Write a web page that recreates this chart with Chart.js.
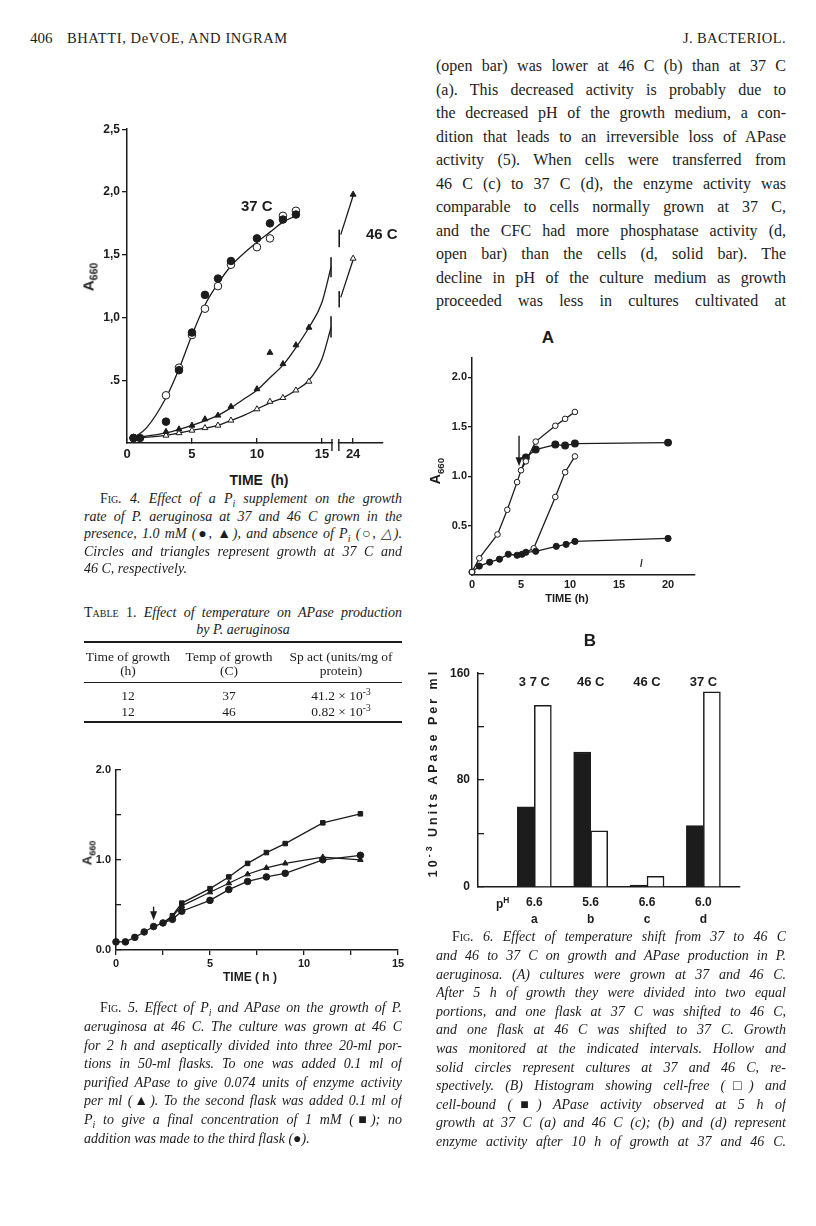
<!DOCTYPE html>
<html>
<head>
<meta charset="utf-8">
<script src="https://cdn.jsdelivr.net/npm/chart.js@4.4.1/dist/chart.umd.min.js"></script>
<style>
  body { margin: 0; width: 816px; height: 1226px; position: relative; overflow: hidden; background: #fff; color: #1c1c1c; font-family: "Liberation Serif", serif; }
  .ln { position: absolute; white-space: nowrap; }
  .j { white-space: normal; text-align: justify; text-align-last: justify; overflow: hidden; }
  .sans { font-family: "Liberation Sans", sans-serif; font-weight: bold; }
  .cap { font-style: italic; }
  .sc { font-style: normal; font-variant: small-caps; }
  sub, sup { font-size: 0.7em; line-height: 0; }
  .rot { position: absolute; white-space: nowrap; transform: translate(-50%, -50%) rotate(-90deg); }
  .rule { position: absolute; background: #1c1c1c; }
  canvas { position: absolute; }
</style>
</head>
<body>
<canvas id="fig4"></canvas>
<canvas id="fig5"></canvas>
<canvas id="fig6a"></canvas>
<canvas id="fig6b"></canvas>
<script>
const INK = '#1c1c1c';

// ---- Fig. 4 data (A660 vs time, h); 24 h is drawn at a compressed position after the axis break
const H24 = 17.4;
const fig4Hours37 = [0.5, 1, 3, 4, 5, 6, 7, 8, 10, 11, 12, 13];
const fig4Filled37 = [0.04, 0.04, 0.17, 0.58, 0.88, 1.18, 1.31, 1.45, 1.63, 1.75, 1.78, 1.82];
const fig4OpenHours37 = [0.5, 3, 4, 5, 6, 7, 8, 10, 11, 12, 13];
const fig4Open37 = [0.04, 0.38, 0.60, 0.86, 1.07, 1.25, 1.42, 1.56, 1.63, 1.81, 1.85];
const fig4Hours46 = [0.5, 3, 4, 5, 6, 7, 8, 10, 11, 12, 13, 14, H24];
const fig4Filled46 = [0.04, 0.09, 0.11, 0.14, 0.19, 0.22, 0.29, 0.43, 0.72, 0.63, 0.78, 0.92, 1.98];
const fig4OpenHours46 = [3, 4, 5, 6, 7, 8, 10, 11, 12, 13, 14, H24];
const fig4Open46 = [0.06, 0.08, 0.10, 0.12, 0.14, 0.18, 0.27, 0.33, 0.36, 0.42, 0.49, 1.47];
// hand-drawn curves
const fit37Hours = [0.5, 1.5, 3, 4, 5, 6, 7, 8, 10, 11, 12, 13];
const fit37 = [0.04, 0.12, 0.36, 0.59, 0.86, 1.1, 1.27, 1.41, 1.6, 1.68, 1.76, 1.81];
const fit46FHours = [0.5, 3, 5, 7, 8, 9, 10, 11, 12, 13, 14, 15, 15.7];
const fit46F = [0.04, 0.08, 0.14, 0.22, 0.28, 0.35, 0.42, 0.52, 0.62, 0.76, 0.92, 1.12, 1.40];
const fit46OHours = [0.5, 3, 5, 7, 8, 9, 10, 11, 12, 13, 14, 15, 15.7];
const fit46O = [0.04, 0.06, 0.10, 0.14, 0.18, 0.22, 0.27, 0.32, 0.36, 0.42, 0.50, 0.67, 0.92];
const fig4Tail = [[H24, 16.45, 1.97, 1.66], [H24, 16.45, 1.46, 1.16]];
const fig4Cuts = [[15.7, 1.32, 1.48], [16.33, 1.56, 1.70], [15.7, 0.84, 1.01], [16.33, 1.08, 1.21]];
const fig4Break = [15.77, 16.3];
const fig4XTicks = [0, 5, 10, 15, H24];
const fig4XLabels = ['0', '5', '10', '15', '24'];
const fig4YTicks = [0.5, 1, 1.5, 2, 2.5];
const fig4YLabels = ['.5', '1,0', '1,5', '2,0', '2,5'];

// ---- Fig. 5 data
const fig5CommonHours = [0, 0.5, 1, 1.5, 2, 2.5];
const fig5Common = [0.09, 0.09, 0.14, 0.20, 0.26, 0.30];
const fig5Hours = [2.5, 3, 3.5, 5, 6, 7, 8, 9, 11, 13];
const fig5Pi = [0.30, 0.38, 0.52, 0.68, 0.81, 0.96, 1.08, 1.18, 1.41, 1.51];
const fig5APase = [0.30, 0.37, 0.49, 0.64, 0.74, 0.84, 0.91, 0.96, 1.03, 1.00];
const fig5None = [0.30, 0.34, 0.43, 0.55, 0.67, 0.76, 0.81, 0.85, 1.00, 1.05];
const fig5Arrow = [2, 0.48, 0.33];
const fig5XTicks = [0, 2.5, 5, 7.5, 10, 12.5, 15];
const fig5XLabels = ['0', '', '5', '', '10', '', '15'];
const fig5YTicks = [0, 0.5, 1, 1.5, 2];
const fig5YLabels = ['0.0', '', '1.0', '', '2.0'];

// ---- Fig. 6A data
const open37Hours = [0, 0.75, 2.6, 3.6, 4.6, 5, 5.5, 6.5, 8.5, 9.5, 10.5];
const open37 = [0.03, 0.17, 0.41, 0.66, 0.94, 1.06, 1.15, 1.35, 1.51, 1.58, 1.65];
const shift46Hours = [5, 5.5, 6.5, 8.5, 9.5, 10.5, 20];
const shift46 = [1.06, 1.19, 1.27, 1.32, 1.31, 1.33, 1.34];
const solid46Hours = [0, 0.75, 1.8, 2.8, 3.7, 4.6, 5.1, 5.5, 6.5, 8.6, 9.6, 10.5, 20];
const solid46 = [0.03, 0.09, 0.13, 0.16, 0.21, 0.20, 0.21, 0.23, 0.24, 0.29, 0.31, 0.34, 0.37];
const shift37Hours = [5.5, 6.3, 8.5, 9.5, 10.5];
const shift37 = [0.23, 0.27, 0.79, 1.04, 1.20];
const fig6aArrow = [4.8, 1.41, 1.10];
const fig6aXTicks = [0, 5, 10, 15, 20];
const fig6aYTicks = [0.5, 1, 1.5, 2];
const fig6aYLabels = ['0.5', '1.0', '1.5', '2.0'];

// ---- Fig. 6B data (10^-3 units APase per ml)
const fig6bPos = [1, 2, 3, 4];
const fig6bCellBound = [60, 101, 1.5, 46];
const fig6bCellFree = [136, 42, 8, 146];
const fig6bTemps = ['3 7 C', '46 C', '46 C', '37 C'];
const fig6bPH = ['6.6', '5.6', '6.6', '6.0'];
const fig6bLetters = ['a', 'b', 'c', 'd'];
const fig6bYTicks = [0, 40, 80, 120, 160];
const fig6bYLabels = ['0', '', '80', '', '160'];

function pts(xs, ys) { return xs.map((x, i) => ({ x: x, y: ys[i] })); }

function series(xs, ys, style) {
  return Object.assign({
    data: pts(xs, ys), clip: false, borderColor: INK, backgroundColor: INK,
    borderWidth: 1.3, pointRadius: 0, tension: 0, showLine: true
  }, style);
}

function markers(xs, ys, shape, filled, r) {
  return series(xs, ys, {
    showLine: false, pointStyle: shape, pointRadius: r, pointBorderWidth: 1,
    pointBackgroundColor: filled ? INK : '#fff', pointBorderColor: INK, order: 0
  });
}

function setup(id, plot, pad) {
  const c = document.getElementById(id);
  c.width = plot.r - plot.l + pad.l + pad.r;
  c.height = plot.b - plot.t + pad.t + pad.b;
  c.style.left = (plot.l - pad.l) + 'px';
  c.style.top = (plot.t - pad.t) + 'px';
  return c;
}

function tickFont(size) { return { family: 'Liberation Sans', weight: 'bold', size: size }; }

function axis(o) {
  return {
    type: 'linear', min: o.min, max: o.max, offset: false,
    afterBuildTicks: s => { s.ticks = o.ticks.map(v => ({ value: v })); },
    afterFit: s => { if (o.w) s.width = o.w; if (o.h) s.height = o.h; },
    border: { display: true, color: INK, width: 1.5 },
    grid: { display: true, drawOnChartArea: false, drawTicks: o.tl !== 0, tickLength: o.tl || 0, color: INK, lineWidth: 1.3 },
    ticks: {
      autoSkip: false, maxRotation: 0, minRotation: 0, color: INK, padding: o.pad, font: tickFont(o.size || 12),
      callback: (v) => { const i = o.ticks.indexOf(v); return o.labels ? o.labels[i] : String(v); }
    }
  };
}

function baseOptions(pad, x, y) {
  return {
    responsive: false, animation: false, events: [],
    layout: { autoPadding: false, padding: { top: pad.t, right: pad.r, left: 0, bottom: 0 } },
    plugins: { legend: { display: false }, tooltip: { enabled: false } },
    scales: { x: x, y: y }
  };
}

function arrow(ctx, x, y1, y2) {
  ctx.save();
  ctx.strokeStyle = INK; ctx.fillStyle = INK; ctx.lineWidth = 1.4;
  ctx.beginPath(); ctx.moveTo(x, y1); ctx.lineTo(x, y2 - 6); ctx.stroke();
  ctx.beginPath(); ctx.moveTo(x - 3.5, y2 - 9); ctx.lineTo(x + 3.5, y2 - 9); ctx.lineTo(x, y2); ctx.closePath(); ctx.fill();
  ctx.restore();
}

// ---------------- Fig. 4
(function () {
  const plot = { l: 127, r: 383, t: 128, b: 443 }, pad = { l: 40, r: 10, t: 8, b: 24 };
  const c = setup('fig4', plot, pad);
  const ds = [
    markers(fig4Hours37, fig4Filled37, 'circle', true, 3.8),
    markers(fig4OpenHours37, fig4Open37, 'circle', false, 3.8),
    markers(fig4Hours46, fig4Filled46, 'triangle', true, 3.4),
    markers(fig4OpenHours46, fig4Open46, 'triangle', false, 3.4),
    series(fit37Hours, fit37, { cubicInterpolationMode: 'monotone', order: 1 }),
    series(fit46FHours, fit46F, { cubicInterpolationMode: 'monotone', order: 1 }),
    series(fit46OHours, fit46O, { cubicInterpolationMode: 'monotone', order: 1 })
  ];
  fig4Tail.forEach(t => ds.push(series([t[0], t[1]], [t[2], t[3]], { order: 1 })));
  fig4Cuts.forEach(t => ds.push(series([t[0], t[0]], [t[1], t[2]], { borderWidth: 1.6, order: 1 })));
  new Chart(c, {
    type: 'line',
    data: { datasets: ds },
    options: baseOptions(pad,
      axis({ min: 0, max: 19.7, ticks: fig4XTicks, labels: fig4XLabels, h: pad.b, tl: -5, pad: 9, size: 13 }),
      axis({ min: 0, max: 2.5, ticks: fig4YTicks, labels: fig4YLabels, w: pad.l, tl: 5, pad: 2, size: 12 })),
    plugins: [{
      id: 'break4',
      afterDraw(chart) {
        const ctx = chart.ctx, x = chart.scales.x, y = chart.scales.y;
        const a = x.getPixelForValue(fig4Break[0]), b = x.getPixelForValue(fig4Break[1]);
        ctx.save();
        ctx.fillStyle = '#fff'; ctx.fillRect(a + 1, y.bottom - 2, b - a - 2, 4);
        ctx.strokeStyle = INK; ctx.lineWidth = 1.4;
        [a, b].forEach(p => { ctx.beginPath(); ctx.moveTo(p, y.bottom - 4); ctx.lineTo(p, y.bottom + 8); ctx.stroke(); });
        ctx.restore();
      }
    }]
  });
})();

// ---------------- Fig. 5
(function () {
  const plot = { l: 116, r: 398, t: 761, b: 950 }, pad = { l: 46, r: 10, t: 8, b: 24 };
  const c = setup('fig5', plot, pad);
  const line = { order: 1 };
  new Chart(c, {
    type: 'line',
    data: { datasets: [
      markers(fig5CommonHours, fig5Common, 'circle', true, 3.3),
      markers(fig5Hours.slice(1), fig5Pi.slice(1), 'rect', true, 3.2),
      markers(fig5Hours.slice(1), fig5APase.slice(1), 'triangle', true, 3.2),
      markers(fig5Hours.slice(1), fig5None.slice(1), 'circle', true, 3.3),
      series(fig5CommonHours, fig5Common, line),
      series(fig5Hours, fig5Pi, line),
      series(fig5Hours, fig5APase, line),
      series(fig5Hours, fig5None, line)
    ] },
    options: baseOptions(pad,
      axis({ min: 0, max: 15, ticks: fig5XTicks, labels: fig5XLabels, h: pad.b, tl: 5, pad: 2, size: 11 }),
      axis({ min: 0, max: 2, ticks: fig5YTicks, labels: fig5YLabels, w: pad.l, tl: -5, pad: 10, size: 11 })),
    plugins: [{
      id: 'arrow5',
      afterDraw(chart) {
        const x = chart.scales.x, y = chart.scales.y;
        arrow(chart.ctx, x.getPixelForValue(fig5Arrow[0]), y.getPixelForValue(fig5Arrow[1]), y.getPixelForValue(fig5Arrow[2]));
      }
    }]
  });
})();

// ---------------- Fig. 6A
(function () {
  const plot = { l: 472, r: 695, t: 354, b: 575 }, pad = { l: 40, r: 8, t: 4, b: 22 };
  const c = setup('fig6a', plot, pad);
  const line = { order: 1 };
  const firstHidden = (n, r) => Array.from({ length: n }, (_, i) => i === 0 ? 0 : r);
  new Chart(c, {
    type: 'line',
    data: { datasets: [
      markers(open37Hours, open37, 'circle', false, 2.8),
      series(shift46Hours, shift46, { showLine: false, pointRadius: firstHidden(shift46.length, 3.3), order: 0 }),
      markers(solid46Hours, solid46, 'circle', true, 3.1),
      series(shift37Hours, shift37, { showLine: false, pointStyle: 'circle', pointRadius: firstHidden(shift37.length, 2.8), pointBackgroundColor: '#fff', pointBorderWidth: 1, order: 0 }),
      series(open37Hours, open37, line),
      series(shift46Hours, shift46, line),
      series(solid46Hours, solid46, line),
      series(shift37Hours, shift37, line)
    ] },
    options: baseOptions(pad,
      axis({ min: 0, max: 22.75, ticks: fig6aXTicks, h: pad.b, tl: 0, pad: 3, size: 11 }),
      axis({ min: 0, max: 2.2, ticks: fig6aYTicks, labels: fig6aYLabels, w: pad.l, tl: 4, pad: 1, size: 11 })),
    plugins: [{
      id: 'arrow6a',
      afterDraw(chart) {
        const x = chart.scales.x, y = chart.scales.y;
        arrow(chart.ctx, x.getPixelForValue(fig6aArrow[0]), y.getPixelForValue(fig6aArrow[1]), y.getPixelForValue(fig6aArrow[2]));
      }
    }]
  });
})();

// ---------------- Fig. 6B
(function () {
  const plot = { l: 478, r: 740, t: 656, b: 887 }, pad = { l: 40, r: 8, t: 4, b: 44 };
  const c = setup('fig6b', plot, pad);
  const xAxis = axis({ min: 0, max: 4.65, ticks: fig6bPos, h: pad.b, tl: 0, pad: 8, size: 12 });
  xAxis.ticks.callback = v => [fig6bPH[v - 1], fig6bLetters[v - 1]];
  xAxis.ticks.font.lineHeight = 1.35;
  new Chart(c, {
    type: 'bar',
    data: { datasets: [
      { data: pts(fig6bPos, fig6bCellBound), backgroundColor: INK, borderColor: INK, borderWidth: 1.5, barThickness: 17 },
      { data: pts(fig6bPos, fig6bCellFree), backgroundColor: '#fff', borderColor: INK, borderWidth: 1.5, barThickness: 17 }
    ] },
    options: baseOptions(pad, xAxis,
      axis({ min: 0, max: 160, ticks: fig6bYTicks, labels: fig6bYLabels, w: pad.l, tl: -6, pad: 14, size: 12 })),
    plugins: [{
      id: 'temps6b',
      afterDraw(chart) {
        const ctx = chart.ctx, x = chart.scales.x;
        ctx.save();
        ctx.fillStyle = INK; ctx.font = 'bold 13px "Liberation Sans"'; ctx.textAlign = 'center'; ctx.textBaseline = 'middle';
        fig6bTemps.forEach((t, i) => ctx.fillText(t, x.getPixelForValue(fig6bPos[i]), chart.chartArea.top + 9));
        ctx.restore();
      }
    }]
  });
})();

// ---------------- text
function put(html, x, y, size, cls, w) {
  const d = document.createElement('div');
  d.className = 'ln ' + (cls || '');
  d.innerHTML = html;
  d.style.fontSize = size + 'px';
  d.style.lineHeight = Math.round(size * 1.25) + 'px';
  d.style.height = Math.round(size * 1.25) + 'px';
  d.style.top = (y - size * 0.62) + 'px';
  d.style.left = x + 'px';
  if (w) { d.style.width = w + 'px'; d.classList.add('j'); }
  document.body.appendChild(d);
  return d;
}
function center(html, x, y, size, cls) {
  const d = put(html, x - 150, y, size, cls);
  d.style.width = '300px'; d.style.textAlign = 'center';
  return d;
}
function rot(html, x, y, size, extra) {
  const d = document.createElement('div');
  d.className = 'rot sans';
  d.innerHTML = html;
  d.style.fontSize = size + 'px';
  d.style.left = x + 'px'; d.style.top = y + 'px';
  if (extra) d.style.letterSpacing = extra;
  document.body.appendChild(d);
}
function rule(x, y, w, h) {
  const d = document.createElement('div');
  d.className = 'rule';
  Object.assign(d.style, { left: x + 'px', top: y + 'px', width: w + 'px', height: h + 'px' });
  document.body.appendChild(d);
}

// running head
put('406', 30, 38, 15);
put('BHATTI, DeVOE, AND INGRAM', 67, 38, 14.5).style.letterSpacing = '0.6px';
const jb = put('J. BACTERIOL.', 0, 38, 14.5);
jb.style.left = ''; jb.style.right = '30px'; jb.style.letterSpacing = '0.4px';

const bodyLines = [
  '(open bar) was lower at 46 C (b) than at 37 C',
  '(a). This decreased activity is probably due to',
  'the decreased pH of the growth medium, a con-',
  'dition that leads to an irreversible loss of APase',
  'activity (5). When cells were transferred from',
  '46 C (c) to 37 C (d), the enzyme activity was',
  'comparable to cells normally grown at 37 C,',
  'and the CFC had more phosphatase activity (d,',
  'open bar) than the cells (d, solid bar). The',
  'decline in pH of the culture medium as growth',
  'proceeded was less in cultures cultivated at'
];
bodyLines.forEach((t, i) => put(t, 436, 66 + 23.5 * i, 16, '', 350));

// figure labels
put('37 C', 241, 205, 15, 'sans');
put('46 C', 366, 233, 15, 'sans');
rot('A<sub>660</sub>', 88, 277, 15);
center('TIME  (h)', 259, 480, 14, 'sans').style.whiteSpace = 'pre';

rot('A<sub>660</sub>', 87, 853, 13);
center('TIME ( h )', 250, 977, 12, 'sans').style.whiteSpace = 'pre';

center('A', 548, 338, 17, 'sans');
rot('A<sub>660</sub>', 435, 471, 14);
center('TIME (h)', 567, 598, 11, 'sans');
put('/', 640, 563, 10, 'sans');

center('B', 590, 641, 17, 'sans');
rot('10<sup>-3</sup> Units APase Per ml', 433, 773, 12.5, '3px');
put('p<sup>H</sup>', 496, 904, 12, 'sans');

// Fig. 4 caption
const cap4 = [
  '<span class="sc">Fig</span>. 4. Effect of a P<sub>i</sub> supplement on the growth',
  'rate of P. aeruginosa at 37 and 46 C grown in the',
  'presence, 1.0 mM (\u25CF, \u25B2), and absence of P<sub>i</sub> (\u25CB, \u25B3).',
  'Circles and triangles represent growth at 37 C and',
  '46 C, respectively.'
];
cap4.forEach((t, i) => put(t, i === 0 ? 100 : 84, 499 + 17.5 * i, 14, 'cap', i === cap4.length - 1 ? 0 : (i === 0 ? 302 : 318)));

// Table 1
put('<span class="sc">Table</span> 1. <i>Effect of temperature on APase production</i>', 84, 613, 14, '', 318);
center('<i>by P. aeruginosa</i>', 243, 630, 14);
rule(84, 641, 318, 1.6);
center('Time of growth', 128, 656, 13.5); center('(h)', 128, 670, 13.5);
center('Temp of growth', 229, 656, 13.5); center('(C)', 229, 670, 13.5);
center('Sp act (units/mg of', 341, 656, 13.5); center('protein)', 341, 670, 13.5);
rule(84, 682, 318, 1);
center('12', 128, 695, 13.5); center('37', 229, 695, 13.5); center('41.2 \u00D7 10<sup>-3</sup>', 341, 695, 13.5);
center('12', 128, 711, 13.5); center('46', 229, 711, 13.5); center('0.82 \u00D7 10<sup>-3</sup>', 341, 711, 13.5);
rule(84, 721, 318, 1.6);

// Fig. 5 caption
const cap5 = [
  '<span class="sc">Fig</span>. 5. Effect of P<sub>i</sub> and APase on the growth of P.',
  'aeruginosa at 46 C. The culture was grown at 46 C',
  'for 2 h and aseptically divided into three 20-ml por-',
  'tions in 50-ml flasks. To one was added 0.1 ml of',
  'purified APase to give 0.074 units of enzyme activity',
  'per ml (\u25B2). To the second flask was added 0.1 ml of',
  'P<sub>i</sub> to give a final concentration of 1 mM (\u25A0); no',
  'addition was made to the third flask (\u25CF).'
];
cap5.forEach((t, i) => put(t, i === 0 ? 100 : 84, 1008 + 18.6 * i, 14, 'cap', i === cap5.length - 1 ? 0 : (i === 0 ? 302 : 318)));

// Fig. 6 caption
const cap6 = [
  '<span class="sc">Fig</span>. 6. Effect of temperature shift from 37 to 46 C',
  'and 46 to 37 C on growth and APase production in P.',
  'aeruginosa. (A) cultures were grown at 37 and 46 C.',
  'After 5 h of growth they were divided into two equal',
  'portions, and one flask at 37 C was shifted to 46 C,',
  'and one flask at 46 C was shifted to 37 C. Growth',
  'was monitored at the indicated intervals. Hollow and',
  'solid circles represent cultures at 37 and 46 C, re-',
  'spectively. (B) Histogram showing cell-free (\u25A1) and',
  'cell-bound (\u25A0) APase activity observed at 5 h of',
  'growth at 37 C (a) and 46 C (c); (b) and (d) represent',
  'enzyme activity after 10 h of growth at 37 and 46 C.'
];
cap6.forEach((t, i) => put(t, i === 0 ? 452 : 436, 937 + 18.6 * i, 14, 'cap', i === 0 ? 334 : 350));
</script>
</body>
</html>
